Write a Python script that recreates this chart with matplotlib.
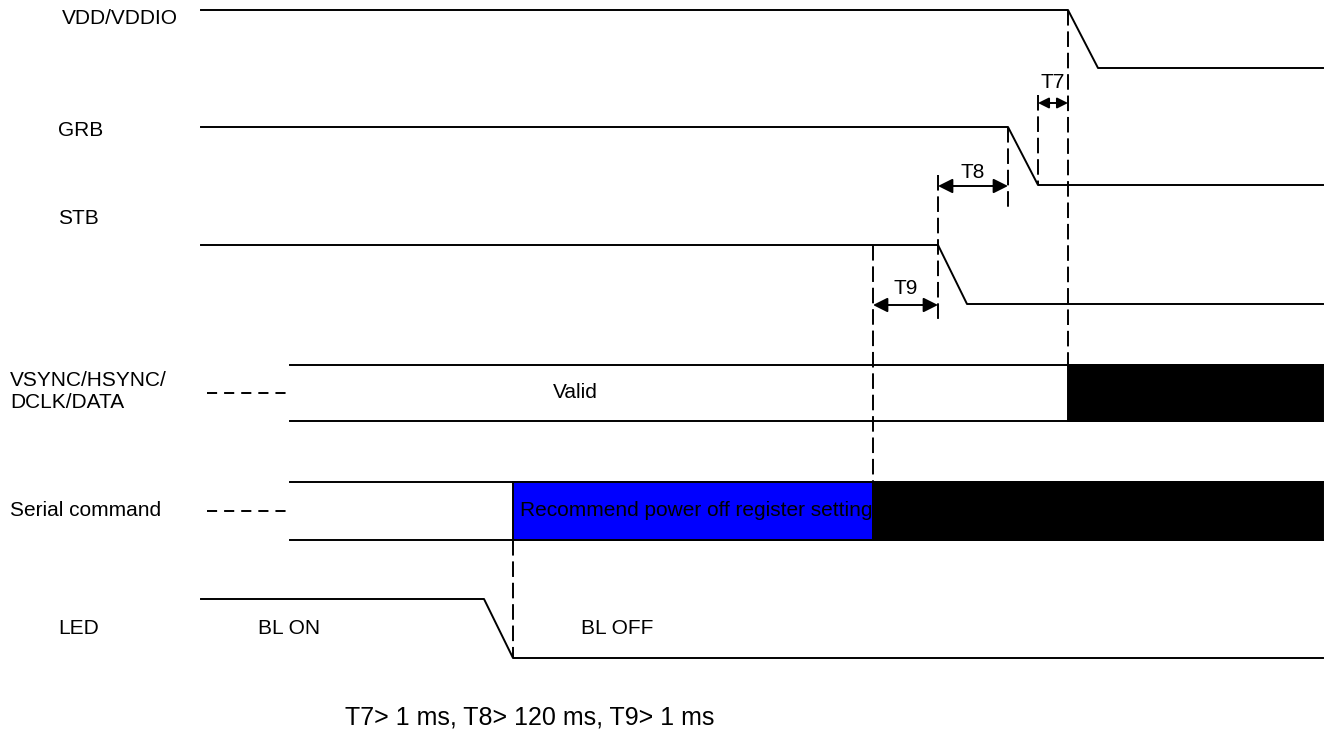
import matplotlib.pyplot as plt
from matplotlib.patches import Rectangle

plt.rcParams['font.family'] = ['Liberation Sans', 'DejaVu Sans']

# signal labels and their text positions (pixel coords)
labels = ['VDD/VDDIO', 'GRB', 'STB', 'VSYNC/HSYNC/\nDCLK/DATA', 'Serial command', 'LED']
label_x = [62, 58, 58, 10, 10, 58]
label_y = [18, 130, 218, 392, 510, 629]

# step-down waveforms: (start x, fall start x, fall end x, end x, high y, low y)
falls = [
    (201, 1068, 1098, 1323, 10, 68),    # VDD/VDDIO
    (201, 1008, 1038, 1323, 127, 185),  # GRB
    (201, 938, 967, 1323, 245, 304),    # STB
    (201, 484, 513, 1323, 599, 658),    # LED
]

# bus signals: (y top, y bottom, x start)
buses = [(365, 421, 290), (482, 540, 290)]
bus_blocks = [
    # (x0, x1, bus index, colour)
    (1068, 1323, 0, 'black'),
    (513, 873, 1, '#0000ff'),
    (873, 1323, 1, 'black'),
]

# timing markers: name, x from, x to, arrow y, label y, head size
timings = [('T7', 1038, 1068, 103, 82, 16), ('T8', 938, 1008, 186, 172, 22),
           ('T9', 873, 938, 305, 289, 22)]

# dashed guide lines: x, y top, y bottom
guides = [(1068, 10, 365), (1038, 95, 185), (1008, 127, 212), (938, 175, 322),
          (873, 245, 482), (513, 540, 658)]

fig = plt.figure(figsize=(13.29, 7.31), dpi=100)
ax = fig.add_axes([0, 0, 1, 1])
ax.set_xlim(0, 1329)
ax.set_ylim(731, 0)
ax.axis('off')

fs = 15
lw = 1.4

for name, x, y in zip(labels, label_x, label_y):
    ax.text(x, y, name, fontsize=fs, va='center', ha='left', linespacing=1.2)

for x0, xf0, xf1, x1, yh, yl in falls:
    ax.plot([x0, xf0, xf1, x1], [yh, yh, yl, yl], color='black', lw=lw)

for i, (yt, yb, xs) in enumerate(buses):
    ax.plot([xs, 1323], [yt, yt], color='black', lw=lw)
    ax.plot([xs, 1323], [yb, yb], color='black', lw=lw)
    ax.plot([207, 290], [(yt + yb) / 2] * 2, color='black', lw=lw,
            dashes=(5.2, 3.6))

for x0, x1, bi, c in bus_blocks:
    yt, yb, _ = buses[bi]
    ax.add_patch(Rectangle((x0, yt), x1 - x0, yb - yt, facecolor=c,
                           edgecolor='black', lw=lw, zorder=2))

ax.text(553, 392, 'Valid', fontsize=fs, va='center')
ax.text(520, 511, 'Recommend power off register setting', fontsize=fs,
        va='center', zorder=3)
ax.text(258, 629, 'BL ON', fontsize=fs, va='center')
ax.text(581, 629, 'BL OFF', fontsize=fs, va='center')

for x, y0, y1 in guides:
    ax.plot([x, x], [y0, y1], color='black', lw=lw, dashes=(8, 3), zorder=4)

for name, x0, x1, ya, yl, hs in timings:
    ax.annotate('', xy=(x0, ya), xytext=(x1, ya),
                arrowprops=dict(arrowstyle='<|-|>', color='black', lw=lw,
                                mutation_scale=hs, shrinkA=0, shrinkB=0))
    ax.text((x0 + x1) / 2, yl, name, fontsize=fs, ha='center', va='center')

ax.text(345, 717, 'T7> 1 ms, T8> 120 ms, T9> 1 ms', fontsize=18, va='center')

fig.savefig('out.png', dpi=100)
